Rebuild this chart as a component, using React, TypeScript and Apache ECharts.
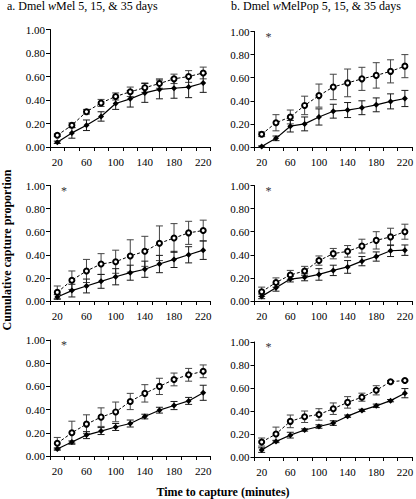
import React, { useEffect, useRef } from "react";
import * as echarts from "echarts";

const categories = ["20", "40", "60", "80", "100", "120", "140", "160", "180", "200", "220"];
const yTicks = [0, 0.2, 0.4, 0.6, 0.8, 1.0];

// Panel a
const aOpen = [0.10, 0.185, 0.30, 0.375, 0.43, 0.47, 0.505, 0.54, 0.58, 0.60, 0.63];
const aOpenErr = [0.01, 0.02, 0.02, 0.03, 0.03, 0.04, 0.04, 0.04, 0.04, 0.05, 0.05];
const aSolid = [0.04, 0.12, 0.185, 0.26, 0.37, 0.41, 0.46, 0.49, 0.50, 0.51, 0.545];
const aSolidErr = [0.01, 0.045, 0.045, 0.04, 0.05, 0.07, 0.08, 0.08, 0.085, 0.09, 0.08];

// Panel b
const bOpen = [0.11, 0.21, 0.26, 0.36, 0.445, 0.52, 0.555, 0.59, 0.62, 0.655, 0.70];
const bOpenErr = [0.02, 0.07, 0.06, 0.08, 0.10, 0.11, 0.12, 0.10, 0.11, 0.10, 0.10];
const bSolid = [0.005, 0.075, 0.18, 0.20, 0.26, 0.31, 0.32, 0.34, 0.365, 0.395, 0.42];
const bSolidErr = [0.005, 0.02, 0.05, 0.06, 0.07, 0.06, 0.065, 0.06, 0.06, 0.065, 0.07];

// Panel c
const cOpen = [0.075, 0.18, 0.26, 0.32, 0.34, 0.39, 0.43, 0.50, 0.545, 0.59, 0.61];
const cOpenErr = [0.055, 0.08, 0.10, 0.09, 0.10, 0.14, 0.13, 0.15, 0.125, 0.10, 0.09];
const cSolid = [0.035, 0.09, 0.13, 0.17, 0.21, 0.245, 0.275, 0.32, 0.36, 0.40, 0.44];
const cSolidErr = [0.02, 0.055, 0.06, 0.06, 0.07, 0.065, 0.07, 0.075, 0.07, 0.07, 0.08];

// Panel d
const dOpen = [0.08, 0.16, 0.225, 0.26, 0.35, 0.41, 0.43, 0.475, 0.525, 0.555, 0.60];
const dOpenErr = [0.04, 0.04, 0.04, 0.04, 0.04, 0.045, 0.05, 0.06, 0.075, 0.075, 0.065];
const dSolid = [0.04, 0.115, 0.19, 0.205, 0.23, 0.265, 0.295, 0.345, 0.385, 0.435, 0.44];
const dSolidErr = [0.02, 0.03, 0.025, 0.03, 0.05, 0.045, 0.055, 0.04, 0.04, 0.05, 0.045];

// Panel e
const eOpen = [0.11, 0.20, 0.275, 0.335, 0.38, 0.47, 0.54, 0.60, 0.66, 0.70, 0.73];
const eOpenErr = [0.05, 0.10, 0.08, 0.08, 0.085, 0.07, 0.075, 0.07, 0.055, 0.055, 0.055];
const eSolid = [0.06, 0.12, 0.18, 0.215, 0.25, 0.28, 0.34, 0.395, 0.435, 0.475, 0.545];
const eSolidErr = [0.01, 0.01, 0.03, 0.03, 0.03, 0.03, 0.02, 0.025, 0.035, 0.03, 0.065];

// Panel f
const fOpen = [0.13, 0.20, 0.31, 0.35, 0.37, 0.42, 0.475, 0.52, 0.58, 0.655, 0.665];
const fOpenErr = [0.035, 0.06, 0.055, 0.05, 0.05, 0.05, 0.05, 0.035, 0.04, 0.01, 0.005];
const fSolid = [0.06, 0.135, 0.19, 0.235, 0.265, 0.295, 0.355, 0.405, 0.445, 0.49, 0.555];
const fSolidErr = [0.02, 0.01, 0.025, 0.01, 0.015, 0.02, 0.01, 0.01, 0.015, 0.01, 0.04];

const panelTitleA = ["a. Dmel ", "w", "Mel 5, 15, & 35 days"];
const panelTitleB = ["b. Dmel ", "w", "MelPop 5, 15, & 35 days"];
const yAxisTitle = "Cumulative capture proportion";
const xAxisTitle = "Time to capture (minutes)";
const starMark = "*";

const panels = [
  { open: aOpen, openErr: aOpenErr, solid: aSolid, solidErr: aSolidErr, star: false },
  { open: bOpen, openErr: bOpenErr, solid: bSolid, solidErr: bSolidErr, star: true },
  { open: cOpen, openErr: cOpenErr, solid: cSolid, solidErr: cSolidErr, star: true },
  { open: dOpen, openErr: dOpenErr, solid: dSolid, solidErr: dSolidErr, star: true },
  { open: eOpen, openErr: eOpenErr, solid: eSolid, solidErr: eSolidErr, star: true },
  { open: fOpen, openErr: fOpenErr, solid: fSolid, solidErr: fSolidErr, star: true },
];

// layout (pixels)
const layout = [
  { left: 50, top: 29.5, height: 117.5 },
  { left: 254.5, top: 31.5, height: 115.5 },
  { left: 50, top: 185.5, height: 115.5 },
  { left: 254.5, top: 185.5, height: 115.5 },
  { left: 50, top: 340, height: 116 },
  { left: 254.5, top: 342, height: 115 },
];
const gridWidth = 160.5;

const FONT = "'Liberation Serif', 'Times New Roman', serif";

export default function App() {
  const ref = useRef<HTMLDivElement>(null);

  useEffect(() => {
    if (!ref.current) return;
    const chart = echarts.init(ref.current, undefined, { renderer: "svg" });

    const grid: any[] = [];
    const xAxis: any[] = [];
    const yAxis: any[] = [];
    const series: any[] = [];
    const graphic: any[] = [];

    const errRender = (color: string) => (params: any, api: any) => {
      const x = api.value(0);
      const lo = api.coord([x, api.value(1)]);
      const hi = api.coord([x, api.value(2)]);
      const w = 3.5;
      const style = { stroke: color, lineWidth: 1, fill: null };
      return {
        type: "group",
        children: [
          { type: "line", shape: { x1: lo[0], y1: lo[1], x2: hi[0], y2: hi[1] }, style },
          { type: "line", shape: { x1: lo[0] - w, y1: lo[1], x2: lo[0] + w, y2: lo[1] }, style },
          { type: "line", shape: { x1: hi[0] - w, y1: hi[1], x2: hi[0] + w, y2: hi[1] }, style },
        ],
      };
    };

    panels.forEach((p, i) => {
      const L = layout[i];
      grid.push({ left: L.left, top: L.top, width: gridWidth, height: L.height, containLabel: false });
      xAxis.push({
        type: "category",
        gridIndex: i,
        data: categories,
        boundaryGap: true,
        axisLine: { lineStyle: { color: "#000", width: 1 } },
        axisTick: { show: true, interval: 0, length: 4, lineStyle: { color: "#000" } },
        axisLabel: { interval: 1, color: "#000", fontFamily: FONT, fontSize: 11, margin: 9 },
        splitLine: { show: false },
      });
      yAxis.push({
        type: "value",
        gridIndex: i,
        min: 0,
        max: 1,
        interval: 0.2,
        axisLine: { show: true, lineStyle: { color: "#000", width: 1 } },
        axisTick: { show: true, length: 4, lineStyle: { color: "#000" } },
        axisLabel: {
          color: "#000",
          fontFamily: FONT,
          fontSize: 11,
          margin: 5,
          formatter: (v: number) => (yTicks.includes(Math.round(v * 10) / 10) ? v.toFixed(2) : ""),
        },
        splitLine: { show: false },
      });
      series.push({
        type: "custom",
        xAxisIndex: i,
        yAxisIndex: i,
        renderItem: errRender("#444"),
        data: p.open.map((m, k) => [k, m - p.openErr[k], m + p.openErr[k]]),
        z: 1,
        silent: true,
      });
      series.push({
        type: "custom",
        xAxisIndex: i,
        yAxisIndex: i,
        renderItem: errRender("#1a1a1a"),
        data: p.solid.map((m, k) => [k, m - p.solidErr[k], m + p.solidErr[k]]),
        z: 1,
        silent: true,
      });
      series.push({
        type: "line",
        xAxisIndex: i,
        yAxisIndex: i,
        data: p.open,
        symbol: "emptyCircle",
        symbolSize: 5,
        lineStyle: { color: "#000", width: 1, type: [3, 2] },
        itemStyle: { color: "#000", borderColor: "#000", borderWidth: 0.8 },
        z: 3,
      });
      series.push({
        type: "line",
        xAxisIndex: i,
        yAxisIndex: i,
        data: p.solid,
        symbol: "diamond",
        symbolSize: 6,
        lineStyle: { color: "#000", width: 1.2 },
        itemStyle: { color: "#000" },
        z: 4,
      });
      if (p.star) {
        graphic.push({
          type: "text",
          left: L.left + 11,
          top: L.top - 1,
          style: { text: starMark, fill: "#333", font: `12px ${FONT}` },
        });
      }
    });

    const titleRich = {
      n: { fontFamily: FONT, fontSize: 12, fill: "#000" },
      i: { fontFamily: FONT, fontSize: 12, fontStyle: "italic", fill: "#000" },
    };
    graphic.push({
      type: "text",
      left: 7,
      top: 0,
      style: {
        text: `{n|${panelTitleA[0]}}{i|${panelTitleA[1]}}{n|${panelTitleA[2]}}`,
        rich: titleRich,
      },
    });
    graphic.push({
      type: "text",
      left: 231,
      top: 0,
      style: {
        text: `{n|${panelTitleB[0]}}{i|${panelTitleB[1]}}{n|${panelTitleB[2]}}`,
        rich: titleRich,
      },
    });
    graphic.push({
      type: "text",
      x: 7,
      y: 250,
      rotation: Math.PI / 2,
      style: {
        text: yAxisTitle,
        fill: "#000",
        font: `bold 12px ${FONT}`,
        align: "center",
        verticalAlign: "middle",
      },
    });
    graphic.push({
      type: "text",
      x: 223,
      y: 492,
      style: {
        text: xAxisTitle,
        fill: "#000",
        font: `bold 12px ${FONT}`,
        align: "center",
        verticalAlign: "middle",
      },
    });

    chart.setOption({
      animation: false,
      backgroundColor: "#fff",
      grid,
      xAxis,
      yAxis,
      series,
      graphic,
    });

    return () => chart.dispose();
  }, []);

  return (
    <div
      ref={ref}
      style={{ position: "fixed", left: 0, top: 0, width: 416, height: 499, background: "#fff" }}
    />
  );
}
